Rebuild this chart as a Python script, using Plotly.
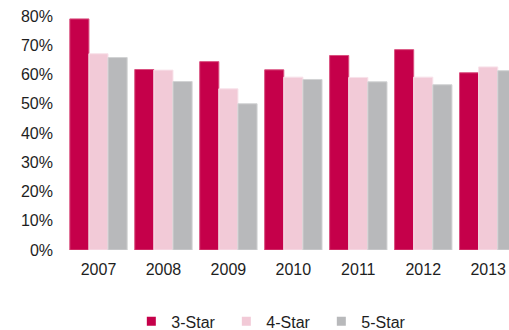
import plotly.graph_objects as go

# Occupancy share by hotel class, 2007-2013
years = ["2007", "2008", "2009", "2010", "2011", "2012", "2013"]
star3 = [0.790, 0.617, 0.644, 0.616, 0.665, 0.685, 0.606]
star4 = [0.671, 0.615, 0.551, 0.591, 0.590, 0.591, 0.626]
star5 = [0.658, 0.576, 0.500, 0.583, 0.575, 0.565, 0.613]

series = [
    ("3-Star", star3, "#C5004A", "#D9507F"),
    ("4-Star", star4, "#F2CAD7", "#F8E2EA"),
    ("5-Star", star5, "#B8B9BB", "#D2D3D4"),
]

fig = go.Figure()
for name, vals, fill, edge in series:
    fig.add_trace(go.Bar(
        x=years, y=vals, name=name,
        marker=dict(color=fill, line=dict(color=edge, width=1)),
        showlegend=False,
    ))
    # small square swatch for the legend
    fig.add_trace(go.Scatter(
        x=[None], y=[None], mode="markers", name=name,
        marker=dict(symbol="square", size=9, color=fill),
    ))

font = dict(family="Liberation Sans, Arial, sans-serif", size=16, color="#1e1e1e")

fig.update_layout(
    width=509, height=330,
    margin=dict(l=66, r=0, t=16, b=80, autoexpand=False),
    paper_bgcolor="white", plot_bgcolor="white",
    barmode="group", bargap=0.117, bargroupgap=0,
    font=font,
    showlegend=True,
    legend=dict(
        orientation="h", xref="container", yref="container",
        x=0.258, xanchor="left", y=0.026, yanchor="middle",
        font=font, entrywidth=50, itemwidth=30,
        bgcolor="rgba(0,0,0,0)",
    ),
)
fig.update_xaxes(
    type="category", range=[-0.5, 6.32],
    showgrid=False, showline=False, zeroline=False,
    ticks="", ticklabelstandoff=8,
)
fig.update_yaxes(
    range=[0, 0.8], dtick=0.1, tickformat=".0%",
    showgrid=False, showline=False, zeroline=False,
    ticks="", ticklabelstandoff=12,
)

fig.write_html("out.html")
